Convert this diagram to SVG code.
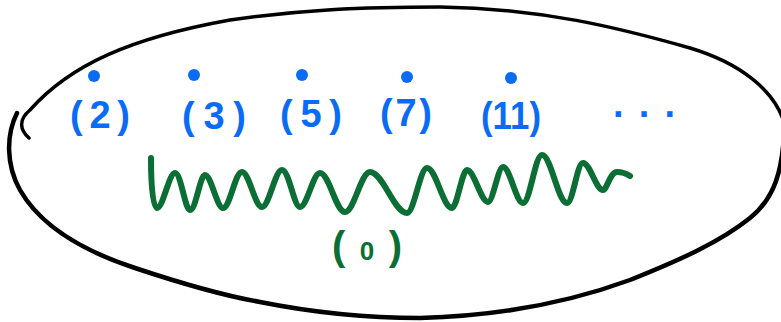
<svg xmlns="http://www.w3.org/2000/svg" width="781" height="322" viewBox="0 0 781 322">
<style>
.outline{fill:none;stroke:#000;stroke-linecap:round;stroke-linejoin:round}
.dot{fill:#0a6cf5}
.lbl{font-family:"Liberation Sans",Arial,sans-serif;font-size:38px;font-weight:bold;fill:#0a6cf5;text-anchor:middle}
.glbl{font-family:"Liberation Sans",Arial,sans-serif;font-size:40px;font-weight:bold;fill:#0b6e35;text-anchor:middle}
.wave{fill:none;stroke:#0b6e35;stroke-width:6;stroke-linecap:round;stroke-linejoin:round}
</style>
<rect width="781" height="322" fill="#fff"/>
<g id="boundary">
<path class="outline" stroke-width="3.5" d="M 29,138 C 20,130 18,120 30,110 C 70,65 130,38 230,20 C 300,10 360,7 440,7 C 540,8 620,28 690,48 C 740,63 774,90 784,122"/>
<path class="outline" stroke-width="4.5" d="M 17,113 C 6,135 6,165 20,190 C 40,225 80,250 135,268 C 180,283 220,295 260,302 C 310,312 360,318 420,318 C 500,316 570,302 630,280 C 680,260 720,242 750,218 C 775,198 782,170 784,135"/>
</g>
<g id="p2"><circle class="dot" cx="94" cy="76" r="6"/><text class="lbl" x="100" y="128" textLength="60" lengthAdjust="spacing">(2)</text></g>
<g id="p3"><circle class="dot" cx="194" cy="75" r="6"/><text class="lbl" x="214" y="129" textLength="64" lengthAdjust="spacing">(3)</text></g>
<g id="p5"><circle class="dot" cx="302" cy="75" r="6"/><text class="lbl" x="311" y="127" textLength="62" lengthAdjust="spacing">(5)</text></g>
<g id="p7"><circle class="dot" cx="407" cy="77" r="6"/><text class="lbl" x="406" y="126" textLength="52" lengthAdjust="spacing">(7)</text></g>
<g id="p11"><circle class="dot" cx="511" cy="78" r="6"/><text class="lbl" x="511" y="129" textLength="60" lengthAdjust="spacingAndGlyphs">(11)</text></g>
<g id="more"><text class="lbl" x="644" y="117" font-size="26" textLength="62" lengthAdjust="spacing">...</text></g>
<g id="zero">
<path class="wave" d="M 151,158 C 151,180 152,206 157,208 C 163,208 169,173 175,173 C 181,173 185,210 190,210 C 196,210 200,175 205,175 C 211,175 217,208 223,208 C 230,208 235,172 242,172 C 249,172 255,207 262,207 C 269,207 275,170 282,170 C 289,170 294,207 300,207 C 307,207 313,173 320,173 C 329,173 336,212 345,212 C 354,212 361,172 370,172 C 383,172 394,213 407,213 C 414,213 420,168 427,168 C 436,168 443,208 452,208 C 457,208 462,170 467,170 C 474,170 481,202 488,202 C 493,202 498,167 503,167 C 510,167 516,203 523,203 C 530,203 535,155 542,155 C 551,155 558,203 567,203 C 573,203 577,163 583,163 C 590,163 596,190 603,190 C 607,190 610,172 617,172 C 622,172 627,174 630,176"/>
<text class="glbl" x="367" y="260" textLength="70" lengthAdjust="spacing">(<tspan font-size="26">0</tspan>)</text>
</g>
</svg>
